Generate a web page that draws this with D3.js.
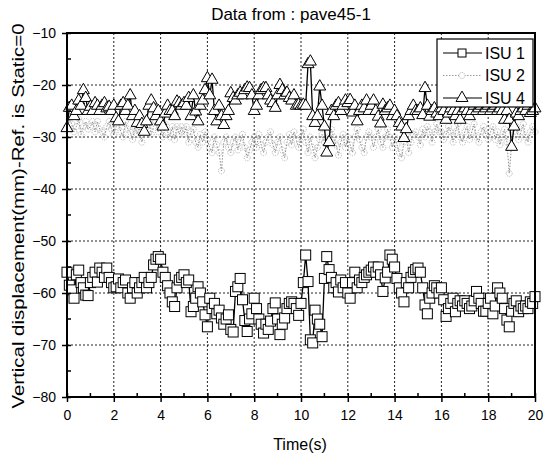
<!DOCTYPE html>
<html>
<head>
<meta charset="utf-8">
<script src="https://cdn.jsdelivr.net/npm/d3@7"></script>
<style>
  body { margin: 0; background: #fff; }
  text { font-family: "Liberation Sans", Arial, sans-serif; fill: #000; }
</style>
</head>
<body>
<div id="chart"></div>
<script>
// time axis, 0.1 s steps from 0 to 20 s
const step = 0.1
const xTicks = [0, 2, 4, 6, 8, 10, 12, 14, 16, 18, 20]
const yTicks = [-80, -70, -60, -50, -40, -30, -20, -10]

// one row per second
const isu1 = [
  -56, -58.5, -59.4, -61, -56.5, -55.6, -58, -59, -60.4, -60.5,
  -58, -57, -56, -57.9, -55.2, -56, -57, -55.2, -57, -58,
  -59, -58.8, -57.3, -59, -58, -57.5, -60, -61, -59, -58,
  -60, -59, -58, -57, -59, -58, -57, -54.6, -53.5, -53,
  -53.5, -56, -57, -58.6, -60, -61.7, -62.6, -59, -57.5, -57,
  -56.5, -58, -57.5, -63.6, -62.6, -61, -58.8, -60, -61.7, -64.2,
  -66.5, -61, -63, -62, -64, -63.3, -64.8, -66, -65, -64.2,
  -67, -67.5, -59.7, -58.8, -57.2, -61.3, -65.3, -67.4, -65, -64,
  -61, -63, -65, -66, -67.7, -66, -67, -65.4, -63, -61.9,
  -65, -68, -66, -64.8, -63, -62, -61.7, -62, -63, -64.3,
  -62, -58, -52.7, -57.8, -69, -69.6, -63.3, -65, -66, -68.4,
  -57.2, -53, -55.5, -57, -59, -58, -59.8, -57.5, -59, -58,
  -60, -61, -58, -56, -59, -57.5, -58, -57, -56.5, -56,
  -55.6, -55, -56, -55, -56.5, -59.7, -57.1, -56, -52.7, -53.5,
  -55, -57.2, -59, -60, -61.7, -58, -59, -57, -56, -55.5,
  -55.2, -56, -59, -62.3, -64, -61, -60, -58.6, -59, -60,
  -59, -61.3, -64.5, -63, -62, -61, -63.6, -62, -61.5, -62.5,
  -61.5, -62, -63, -62.5, -61.5, -59.7, -61, -62, -63.5, -63.5,
  -62, -61, -64, -62.5, -59, -60, -61, -63, -65.2, -66.5,
  -63.5, -62, -61.5, -63.6, -62.5, -63, -62.5, -63, -61.7, -62,
  -60.7
]

const isu2 = [
  -28, -26.5, -27.5, -29, -28, -26.5, -29.5, -28, -27, -28.5,
  -28, -27, -29, -27, -28.5, -29, -30, -28, -27, -28.5,
  -29.5, -28, -27, -29, -30, -27, -28.5, -29, -30.5, -28,
  -29.5, -28, -31, -29, -28, -27, -29.5, -28, -27, -29,
  -28, -30, -27.5, -29, -30, -28, -30.5, -28, -29.5, -28,
  -29.5, -28, -31, -29, -28.5, -31, -32, -29.5, -31, -29,
  -30.5, -32, -33, -30, -31.5, -33, -36.5, -31, -30, -32,
  -33, -31, -30, -32.5, -31, -29.5, -32, -34, -32.5, -31,
  -30, -32, -29.5, -31.5, -33, -31, -30, -29, -31.5, -33,
  -31, -30, -32.5, -34, -31, -29.5, -31.5, -29, -30.5, -32,
  -30, -28.5, -31, -33, -30, -32, -34, -32, -30.5, -29.5,
  -31, -33, -30, -28.5, -30, -31.5, -33.5, -31, -29.5, -32,
  -30, -31.5, -33, -30, -28.5, -30.5, -32, -33, -30, -29,
  -30, -32, -30, -28.5, -31, -32, -30, -28.5, -30, -32,
  -30, -31.5, -33, -34, -31, -29.5, -33, -31, -29.5, -29,
  -30, -31.5, -28.5, -30, -28, -29, -31, -29, -27.5, -29,
  -29, -30.5, -29.5, -28, -29, -31, -29, -27.5, -30, -31,
  -29, -28, -30.5, -29, -27.5, -30, -31, -29, -28, -29.5,
  -30.5, -29, -28, -30.5, -29, -31.5, -30, -28.5, -31, -37,
  -31.5, -29, -28, -30.5, -29, -27.5, -30, -31, -29, -28,
  -29
]

const isu4 = [
  -28.3, -24.4, -24, -26, -25, -23, -24, -21, -22.5, -25,
  -24.2, -25, -23.5, -24, -25, -24, -23.5, -24.5, -24.2, -25,
  -24, -26.4, -27, -24, -23.5, -25, -24, -22, -26, -25,
  -27.3, -26, -27.5, -29, -27, -24, -23, -24.5, -26, -25,
  -27, -28, -25.5, -24, -25, -25, -26, -23.2, -23.5, -24,
  -23.5, -24, -22.5, -26, -22, -25.1, -27, -24, -23, -21,
  -18.7, -22, -19, -25, -27, -24, -26, -27.7, -26, -25,
  -21.6, -22.5, -23, -22, -21.5, -22, -21, -20.5, -20.6, -22,
  -25, -24, -22, -21, -20.6, -20.6, -22, -23, -23.5, -24.4,
  -22, -20, -21, -22, -21.5, -22.5, -23, -22, -24, -23.8,
  -24, -23.8, -24, -16, -15.5, -26, -27.3, -26, -20.3, -24,
  -28, -33, -31, -25, -26, -24, -23.5, -25, -24, -23,
  -23.5, -22.9, -25.3, -24, -27, -25, -24, -24.5, -23, -25,
  -24, -23, -25, -26.1, -27.4, -23.8, -25, -24.5, -24, -26,
  -25, -26, -27.3, -28, -30.2, -28.5, -26, -25, -24, -25,
  -25, -24.5, -25.8, -20.6, -24, -26.1, -25, -24.5, -25.5, -26,
  -24.5, -25, -26.7, -25.5, -24.5, -25, -26, -25, -26.7, -25,
  -24.5, -25, -26, -25, -24, -25, -24.5, -24, -25, -24.5,
  -24, -25, -24.5, -24, -25, -24.5, -25, -26.7, -25, -26.7,
  -31.9, -28, -25.5, -26, -25, -24.5, -25, -24, -25.4, -25,
  -24.5
]

const legendNames = ['ISU 1', 'ISU 2', 'ISU 4']

const W = 555, H = 457
const margin = { top: 33, right: 20, bottom: 60, left: 67 }
const width = W - margin.left - margin.right
const height = H - margin.top - margin.bottom

const svg = d3.select('#chart').append('svg')
  .attr('width', W)
  .attr('height', H)

const g = svg.append('g')
  .attr('transform', 'translate(' + margin.left + ',' + margin.top + ')')

const x = d3.scaleLinear().domain([0, 20]).range([0, width])
const y = d3.scaleLinear().domain([-80, -10]).range([height, 0])

// grid
g.append('g').selectAll('line')
  .data(xTicks.slice(1, -1))
  .enter().append('line')
    .attr('x1', d => x(d)).attr('x2', d => x(d))
    .attr('y1', 0).attr('y2', height)
    .attr('stroke', '#222').attr('stroke-width', 1)
    .attr('stroke-dasharray', '2,2')
g.append('g').selectAll('line')
  .data(yTicks.slice(1, -1))
  .enter().append('line')
    .attr('x1', 0).attr('x2', width)
    .attr('y1', d => y(d)).attr('y2', d => y(d))
    .attr('stroke', '#222').attr('stroke-width', 1)
    .attr('stroke-dasharray', '2,2')

const toPoints = arr => arr.map((v, i) => ({ t: i * step, v: v }))

const line = d3.line()
  .x(d => x(d.t))
  .y(d => y(d.v))

// ISU 2 - grey dotted, small open circles
const p2 = toPoints(isu2)
g.append('path')
  .attr('d', line(p2))
  .attr('fill', 'none')
  .attr('stroke', '#8c8c8c')
  .attr('stroke-width', 1)
  .attr('stroke-dasharray', '1.5,1.5')
g.append('g').selectAll('circle')
  .data(p2)
  .enter().append('circle')
    .attr('cx', d => x(d.t)).attr('cy', d => y(d.v))
    .attr('r', 3)
    .attr('fill', 'none')
    .attr('stroke', '#a0a0a0')
    .attr('stroke-width', 0.8)
    .attr('stroke-dasharray', '1,1')

// ISU 1 - squares
const p1 = toPoints(isu1)
g.append('path')
  .attr('d', line(p1))
  .attr('fill', 'none')
  .attr('stroke', '#000')
  .attr('stroke-width', 1.3)
g.append('g').selectAll('rect')
  .data(p1)
  .enter().append('rect')
    .attr('x', d => x(d.t) - 5).attr('y', d => y(d.v) - 5)
    .attr('width', 10).attr('height', 10)
    .attr('fill', '#fff')
    .attr('stroke', '#000')
    .attr('stroke-width', 1)

// ISU 4 - triangles
const p4 = toPoints(isu4)
const tri = d3.symbol().type(d3.symbolTriangle).size(62)
g.append('path')
  .attr('d', line(p4))
  .attr('fill', 'none')
  .attr('stroke', '#000')
  .attr('stroke-width', 1.3)
g.append('g').selectAll('path')
  .data(p4)
  .enter().append('path')
    .attr('d', tri)
    .attr('transform', d => 'translate(' + x(d.t) + ',' + y(d.v) + ')')
    .attr('fill', '#fff')
    .attr('stroke', '#000')
    .attr('stroke-width', 1)

// frame
g.append('rect')
  .attr('x', 0).attr('y', 0)
  .attr('width', width).attr('height', height)
  .attr('fill', 'none')
  .attr('stroke', '#000')
  .attr('stroke-width', 2)

// axes
const xAxis = g.append('g')
  .attr('transform', 'translate(0,' + height + ')')
  .call(d3.axisBottom(x).tickValues(xTicks).tickSize(5).tickPadding(8).tickFormat(d3.format('d')))
xAxis.select('.domain').remove()
xAxis.selectAll('text').style('font-size', '14px')
xAxis.selectAll('line').attr('y1', -4).attr('stroke-width', 1.5)
g.append('g').selectAll('line')
  .data(d3.range(1, 20, 2))
  .enter().append('line')
    .attr('x1', d => x(d)).attr('x2', d => x(d))
    .attr('y1', height).attr('y2', height - 4)
    .attr('stroke', '#000').attr('stroke-width', 1.5)

const yAxis = g.append('g')
  .call(d3.axisLeft(y).tickValues(yTicks).tickSize(5).tickPadding(6).tickFormat(d3.format('d')))
yAxis.select('.domain').remove()
yAxis.selectAll('text').style('font-size', '14px')
yAxis.selectAll('line').attr('x1', 4).attr('stroke-width', 1.5)
g.append('g').selectAll('line')
  .data(d3.range(-75, -10, 10))
  .enter().append('line')
    .attr('x1', 0).attr('x2', 4)
    .attr('y1', d => y(d)).attr('y2', d => y(d))
    .attr('stroke', '#000').attr('stroke-width', 1.5)

// titles
svg.append('text')
  .attr('x', 291).attr('y', 20)
  .attr('text-anchor', 'middle')
  .style('font-size', '17px')
  .text('Data from : pave45-1')

svg.append('text')
  .attr('x', 300).attr('y', 450)
  .attr('text-anchor', 'middle')
  .style('font-size', '16px')
  .text('Time(s)')

svg.append('text')
  .attr('transform', 'translate(24,' + 216 + ') rotate(-90)')
  .attr('text-anchor', 'middle')
  .attr('textLength', 385)
  .attr('lengthAdjust', 'spacingAndGlyphs')
  .style('font-size', '17px')
  .text('Vertical displacement(mm)-Ref. is Static=0')

// legend
const lg = svg.append('g').attr('transform', 'translate(437,39)')
lg.append('rect')
  .attr('width', 96).attr('height', 68)
  .attr('fill', '#fff')
  .attr('stroke', '#000')
  .attr('stroke-width', 1.2)

const items = lg.selectAll('.item')
  .data(legendNames)
  .enter().append('g')
    .attr('class', 'item')
    .attr('transform', (d, i) => 'translate(0,' + (14 + i * 22.5) + ')')

items.append('line')
  .attr('x1', 6).attr('x2', 45)
  .attr('stroke', (d, i) => i === 1 ? '#9a9a9a' : '#000')
  .attr('stroke-width', 1.2)
  .attr('stroke-dasharray', (d, i) => i === 1 ? '1.5,1.5' : null)

items.each(function (d, i) {
  const s = d3.select(this)
  if (i === 0) {
    s.append('rect').attr('x', 21).attr('y', -4).attr('width', 8).attr('height', 8)
      .attr('fill', '#fff').attr('stroke', '#000')
  } else if (i === 1) {
    s.append('circle').attr('cx', 25).attr('r', 3)
      .attr('fill', '#fff').attr('stroke', '#aaa').attr('stroke-dasharray', '1,1')
  } else {
    s.append('path').attr('d', tri).attr('transform', 'translate(25,0)')
      .attr('fill', '#fff').attr('stroke', '#000')
  }
})

items.append('text')
  .attr('x', 48).attr('dy', '0.36em')
  .style('font-size', '16px')
  .text(d => d)
</script>
</body>
</html>
